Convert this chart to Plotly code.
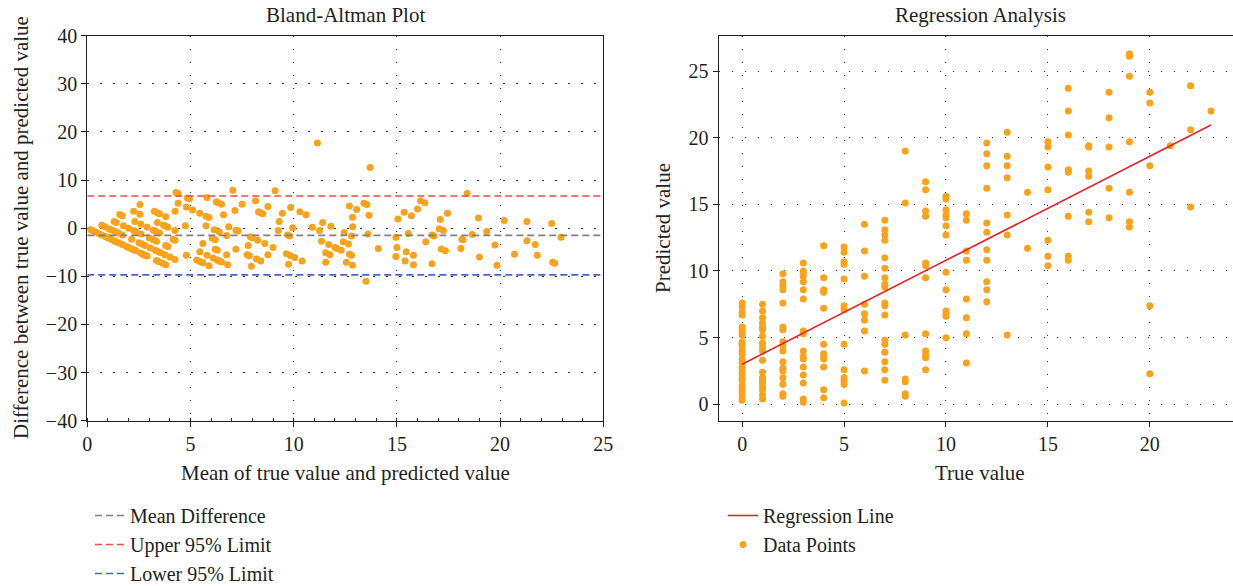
import plotly.graph_objects as go

# ---------------- data ----------------
true_levels = list(range(24))
pred_t0 = [7.6, 7.3, 6.9, 6.7, 5.8, 5.6, 5.4, 5.2, 4.7, 4.5, 4.3, 4.0, 3.8, 3.4, 3.1, 2.8, 2.6, 2.3, 2.0, 1.8, 1.4, 1.1, 0.8, 0.5, 0.3]
pred_t1 = [7.5, 7.0, 6.5, 6.1, 5.8, 5.6, 5.1, 4.6, 4.3, 4.0, 3.3, 2.4, 2.0, 1.8, 1.6, 1.3, 1.1, 0.7, 0.4]
pred_t2 = [9.8, 9.2, 8.9, 8.6, 7.6, 5.8, 5.6, 4.7, 4.4, 4.0, 3.2, 2.7, 2.5, 2.0, 1.5, 0.8, 0.6]
pred_t3 = [10.6, 10.0, 9.8, 9.6, 9.2, 8.6, 7.9, 5.5, 5.3, 4.0, 3.6, 3.4, 2.8, 2.2, 1.6, 0.4, 0.15]
pred_t4 = [11.9, 9.5, 8.6, 8.4, 7.2, 4.5, 3.8, 3.6, 3.4, 2.8, 1.1, 0.5]
pred_t5 = [11.8, 11.4, 10.7, 10.5, 9.4, 7.4, 7.1, 4.5, 2.6, 2.0, 1.8, 1.5, 0.1]
pred_t6 = [13.5, 11.5, 9.6, 7.5, 6.8, 6.3, 5.5, 2.5]
pred_t7 = [13.8, 13.1, 12.7, 12.3, 11.0, 10.2, 9.5, 9.0, 8.8, 7.6, 7.4, 6.7, 4.8, 4.5, 3.9, 3.2, 2.6, 1.8]
pred_t8 = [19.0, 15.1, 5.2, 1.9, 1.7, 0.8, 0.6]
pred_t9 = [16.7, 16.1, 14.5, 14.1, 10.6, 10.4, 9.5, 5.3, 4.0, 3.7, 3.5, 2.6]
pred_t10 = [15.6, 15.4, 14.6, 14.2, 14.0, 13.4, 12.7, 9.9, 8.6, 7.0, 6.8, 6.6, 5.0]
pred_t11 = [14.3, 13.8, 11.5, 10.8, 7.9, 6.5, 5.3, 3.1]
pred_t12 = [19.6, 18.8, 17.9, 16.2, 13.6, 12.9, 11.6, 10.8, 9.2, 8.6, 7.7]
pred_t13 = [20.4, 18.6, 17.9, 17.0, 14.2, 12.7, 5.2]
pred_t14 = [15.9, 11.7]
pred_t15 = [19.7, 19.3, 17.8, 16.1, 12.3, 11.1, 10.4]
pred_t16 = [23.7, 22.0, 20.2, 17.6, 17.4, 14.1, 11.1, 10.8]
pred_t17 = [19.4, 19.3, 17.5, 17.1, 14.4, 13.7]
pred_t18 = [23.4, 21.5, 19.3, 16.2, 14.0]
pred_t19 = [26.3, 26.1, 24.6, 19.7, 15.9, 13.7, 13.3]
pred_t20 = [23.4, 22.6, 17.9, 7.4, 2.3]
pred_t21 = [19.4]
pred_t22 = [23.9, 20.6, 14.8]
pred_t23 = [22.0]

# Bland-Altman reference lines
mean_difference = -1.5
upper_limit = 6.7
lower_limit = -9.7

# Regression line
reg_intercept = 3.0
reg_end_value = 20.95
reg_x_range = [0, 23]

# ---------------- assemble ----------------
pred_columns = [pred_t0, pred_t1, pred_t2, pred_t3, pred_t4, pred_t5, pred_t6, pred_t7,
                pred_t8, pred_t9, pred_t10, pred_t11, pred_t12, pred_t13, pred_t14, pred_t15,
                pred_t16, pred_t17, pred_t18, pred_t19, pred_t20, pred_t21, pred_t22, pred_t23]
true_vals, pred_vals = [], []
for t, col in zip(true_levels, pred_columns):
    for p in col:
        true_vals.append(t)
        pred_vals.append(p)

ba_mean = [(t + p) / 2 for t, p in zip(true_vals, pred_vals)]
ba_diff = [t - p for t, p in zip(true_vals, pred_vals)]
slope = (reg_end_value - reg_intercept) / (reg_x_range[1] - reg_x_range[0])
reg_y = [reg_intercept + slope * x for x in reg_x_range]

FONT = "Liberation Serif"
TXT = "#231f20"
ORANGE = "#F9A21B"
W, H = 1233, 586

def px_x(v):
    return v / W

def px_y(v):
    return (H - v) / H

fig = go.Figure()

# Left: Bland-Altman
fig.add_trace(go.Scatter(x=ba_mean, y=ba_diff, mode="markers",
                         marker=dict(color=ORANGE, size=7, line=dict(width=0)),
                         showlegend=False, xaxis="x", yaxis="y", hoverinfo="skip"))
ba_x = [0, 25]
fig.add_trace(go.Scatter(x=ba_x, y=[mean_difference] * 2, mode="lines", name="Mean Difference",
                         line=dict(color="#808080", width=1.6, dash="7px,4px"),
                         xaxis="x", yaxis="y", legend="legend", legendgroup="a"))
fig.add_trace(go.Scatter(x=ba_x, y=[upper_limit] * 2, mode="lines", name="Upper 95% Limit",
                         line=dict(color="#EE4B4B", width=1.6, dash="7px,4px"),
                         xaxis="x", yaxis="y", legend="legend", legendgroup="b"))
fig.add_trace(go.Scatter(x=ba_x, y=[lower_limit] * 2, mode="lines", name="Lower 95% Limit",
                         line=dict(color="#4A64C0", width=1.6, dash="7px,4px"),
                         xaxis="x", yaxis="y", legend="legend", legendgroup="c"))

# Right: regression
fig.add_trace(go.Scatter(x=true_vals, y=pred_vals, mode="markers", name="Data Points",
                         marker=dict(color=ORANGE, size=7, line=dict(width=0)),
                         xaxis="x2", yaxis="y2", legend="legend2", legendgroup="e"))
fig.add_trace(go.Scatter(x=reg_x_range, y=reg_y, mode="lines", name="Regression Line",
                         line=dict(color="#E8202A", width=1.6),
                         xaxis="x2", yaxis="y2", legend="legend2", legendgroup="d"))

grid = dict(showgrid=True, gridcolor="#333333", gridwidth=1.2, griddash="1.5px,11.5px",
            zeroline=False, showline=True, linecolor="#231f20", linewidth=1.3, mirror=True,
            ticks="outside", ticklen=5, tickwidth=1.2, tickcolor="#231f20",
            tickfont=dict(family=FONT, size=20, color=TXT), automargin=False)

ydom = [px_y(420.7), px_y(35.7)]
fig.update_layout(
    width=W, height=H,
    margin=dict(l=0, r=0, t=0, b=0, autoexpand=False),
    paper_bgcolor="white", plot_bgcolor="white",
    font=dict(family=FONT, size=21, color=TXT),
    xaxis=dict(domain=[px_x(87.3), px_x(603.3)], range=[0, 25], tick0=0, dtick=5,
               anchor="y",
               minor=dict(dtick=1, ticks="inside", ticklen=3, tickwidth=1, tickcolor="#231f20",
                          showgrid=False),
               **grid),
    yaxis=dict(domain=ydom, range=[-40, 40], tick0=-40, dtick=10, anchor="x", **grid),
    xaxis2=dict(domain=[px_x(718.7), 1.0], range=[-1.15, 24.08], tick0=0, dtick=5,
                anchor="y2", **grid),
    yaxis2=dict(domain=ydom, range=[-1.23, 27.65], tick0=0, dtick=5, anchor="x2", **grid),
    legend=dict(x=px_x(90), y=px_y(496), xanchor="left", yanchor="top",
                bgcolor="rgba(0,0,0,0)", font=dict(family=FONT, size=20, color=TXT),
                tracegroupgap=0, traceorder="normal"),
    legend2=dict(x=px_x(723), y=px_y(496), xanchor="left", yanchor="top",
                 bgcolor="rgba(0,0,0,0)", font=dict(family=FONT, size=20, color=TXT),
                 tracegroupgap=0, traceorder="reversed"),
    annotations=[
        dict(text="Bland-Altman Plot", x=px_x(345), y=px_y(15), xref="paper", yref="paper",
             showarrow=False, xanchor="center", yanchor="middle", font=dict(size=21)),
        dict(text="Regression Analysis", x=px_x(980), y=px_y(15), xref="paper", yref="paper",
             showarrow=False, xanchor="center", yanchor="middle", font=dict(size=21)),
        dict(text="Mean of true value and predicted value", x=px_x(345), y=px_y(473),
             xref="paper", yref="paper", showarrow=False, xanchor="center", yanchor="middle"),
        dict(text="True value", x=px_x(980), y=px_y(473), xref="paper", yref="paper",
             showarrow=False, xanchor="center", yanchor="middle"),
        dict(text="Difference between true value and predicted value", x=px_x(21), y=px_y(228),
             xref="paper", yref="paper", showarrow=False, xanchor="center", yanchor="middle",
             textangle=-90),
        dict(text="Predicted value", x=px_x(663), y=px_y(228), xref="paper", yref="paper",
             showarrow=False, xanchor="center", yanchor="middle", textangle=-90),
    ],
)

fig.write_html("out.html", config={"displayModeBar": False},
               post_script="document.body.style.margin='0';")
